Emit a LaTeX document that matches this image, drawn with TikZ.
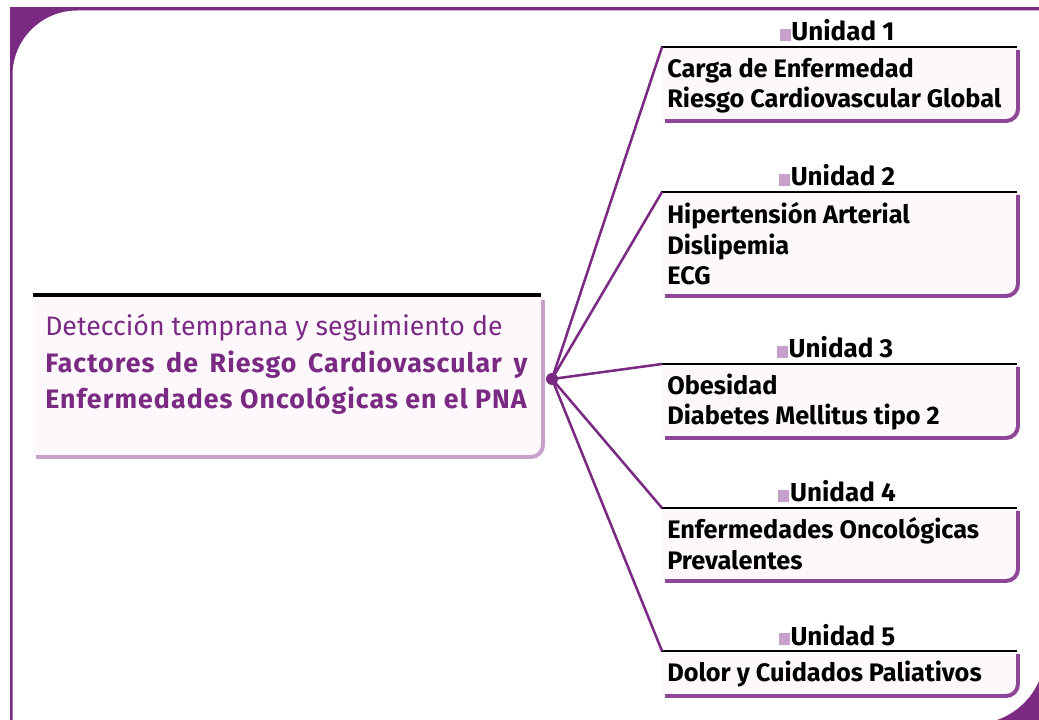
\documentclass[tikz,border=0pt]{standalone}
\usepackage{fontspec}
\setmainfont{Fira Sans}
\usepackage{tikz}
\usetikzlibrary{positioning}
\definecolor{PNAPurple}{HTML}{7B2A83}
\definecolor{PNAViolet}{HTML}{8E4796}
\definecolor{PNALilac}{HTML}{C7A1CB}
\definecolor{PNAMist}{HTML}{FCF8FC}
\definecolor{PNABlack}{HTML}{000000}
\definecolor{PNAWhite}{HTML}{FFFFFF}
\colorlet{FrameColor}{PNAPurple}
\colorlet{SpokeColor}{PNAPurple}
\colorlet{UnitEdge}{PNAViolet}
\colorlet{MainEdge}{PNALilac}
\colorlet{UnitMark}{PNALilac}
\colorlet{BoxFill}{PNAMist}
\colorlet{TitleText}{PNAPurple}
\newcommand{\unitmark}{\textcolor{UnitMark}{\rule{0.28cm}{0.3cm}}\hspace{0.5pt}}
\newcommand{\widebold}[1]{{\bfseries\addfontfeature{LetterSpace=4}#1}}
\tikzset{
  spoke/.style={draw=SpokeColor, line width=1.8pt},
  hubdot/.style={circle, fill=SpokeColor, minimum size=0.3cm, inner sep=0pt},
  unitline/.style={draw=PNABlack, line width=1.8pt},
  mainline/.style={draw=PNABlack, line width=2.8pt},
  unitedge/.style={draw=UnitEdge, line width=2.8pt},
  mainedge/.style={draw=MainEdge, line width=2.8pt},
  unitlabel/.style={anchor=base, inner sep=0pt, font=\fontsize{18.5}{20}\selectfont\bfseries},
  unittext/.style={anchor=base west, inner sep=0pt, align=left, font=\fontsize{18}{22}\selectfont\bfseries},
  maintext/.style={anchor=base west, inner sep=0pt, align=left, text=TitleText, font=\fontsize{19}{26.2}\selectfont},
}

\begin{document}
\begin{tikzpicture}[x=0.025cm, y=-0.025cm]

    \useasboundingbox (0,0) rectangle (1039,720);

    % Frame
    \fill[FrameColor] (10,7) rectangle (1039,720);
    \fill[PNAWhite] (12.5,725) -- (12.5,75.5) arc[start angle=180, end angle=270, radius=65] -- (1045,10.5) -- (1045,652) arc[start angle=0, end angle=90, radius=72] -- cycle;

    % Main box
    \fill[BoxFill] (33,297) -- (543,297) -- (543,445) arc[start angle=0, end angle=90, radius=12] -- (33,457) -- cycle;
    \draw[mainedge] (543,300) -- (543,445) arc[start angle=0, end angle=90, radius=12] -- (36,457);
    \draw[mainline] (33,295) -- (541,295);
    \node[maintext] (title) at (45,409) {Detección temprana y seguimiento de\\
        \widebold{\makebox[12.05cm][s]{Factores de Riesgo Cardiovascular y}}\\
        \widebold{Enfermedades Oncológicas en el PNA}};

    % Unidad 1
    \fill[BoxFill] (662,47) -- (1018,47) -- (1018,109) arc[start angle=0, end angle=90, radius=12] -- (662,121) -- cycle;
    \draw[unitedge] (1018,50) -- (1018,109) arc[start angle=0, end angle=90, radius=12] -- (665,121);
    \draw[unitline] (661,47) -- (1017,47);
    \coordinate (t1) at (662,47);
    \node[unitlabel] (u1) at (837,41) {\unitmark Unidad 1};
    \node[unittext] (b1) at (667,108) {Carga de Enfermedad\\Riesgo Cardiovascular Global};

    % Unidad 2
    \fill[BoxFill] (662,192) -- (1018,192) -- (1018,284) arc[start angle=0, end angle=90, radius=12] -- (662,296) -- cycle;
    \draw[unitedge] (1018,195) -- (1018,284) arc[start angle=0, end angle=90, radius=12] -- (665,296);
    \draw[unitline] (661,192) -- (1017,192);
    \coordinate (t2) at (662,192);
    \node[unitlabel] (u2) at (837,186) {\unitmark Unidad 2};
    \node[unittext] (b2) at (667,285) {Hipertensión Arterial\\Dislipemia\\ECG};

    % Unidad 3
    \fill[BoxFill] (662,364) -- (1018,364) -- (1018,426) arc[start angle=0, end angle=90, radius=12] -- (662,438) -- cycle;
    \draw[unitedge] (1018,367) -- (1018,426) arc[start angle=0, end angle=90, radius=12] -- (665,438);
    \draw[unitline] (661,364) -- (1017,364);
    \coordinate (t3) at (662,364);
    \node[unitlabel] (u3) at (835,358) {\unitmark Unidad 3};
    \node[unittext] (b3) at (667,425) {Obesidad\\Diabetes Mellitus tipo 2};

    % Unidad 4
    \fill[BoxFill] (662,508) -- (1018,508) -- (1018,569) arc[start angle=0, end angle=90, radius=12] -- (662,581) -- cycle;
    \draw[unitedge] (1018,511) -- (1018,569) arc[start angle=0, end angle=90, radius=12] -- (665,581);
    \draw[unitline] (661,508) -- (1017,508);
    \coordinate (t4) at (662,508);
    \node[unitlabel] (u4) at (837,502) {\unitmark Unidad 4};
    \node[unittext] (b4) at (667,569) {Enfermedades Oncológicas\\Prevalentes};

    % Unidad 5
    \fill[BoxFill] (662,651) -- (1018,651) -- (1018,684) arc[start angle=0, end angle=90, radius=12] -- (662,696) -- cycle;
    \draw[unitedge] (1018,654) -- (1018,684) arc[start angle=0, end angle=90, radius=12] -- (665,696);
    \draw[unitline] (661,651) -- (1017,651);
    \coordinate (t5) at (662,651);
    \node[unitlabel] (u5) at (837,645) {\unitmark Unidad 5};
    \node[unittext] (b5) at (667,681) {Dolor y Cuidados Paliativos};

    % Spokes
    \node[hubdot] (hub) at (552,379) {};
    \draw[spoke] (hub.center) -- (t1);
    \draw[spoke] (hub.center) -- (t2);
    \draw[spoke] (hub.center) -- (t3);
    \draw[spoke] (hub.center) -- (t4);
    \draw[spoke] (hub.center) -- (t5);

\end{tikzpicture}
\end{document}
